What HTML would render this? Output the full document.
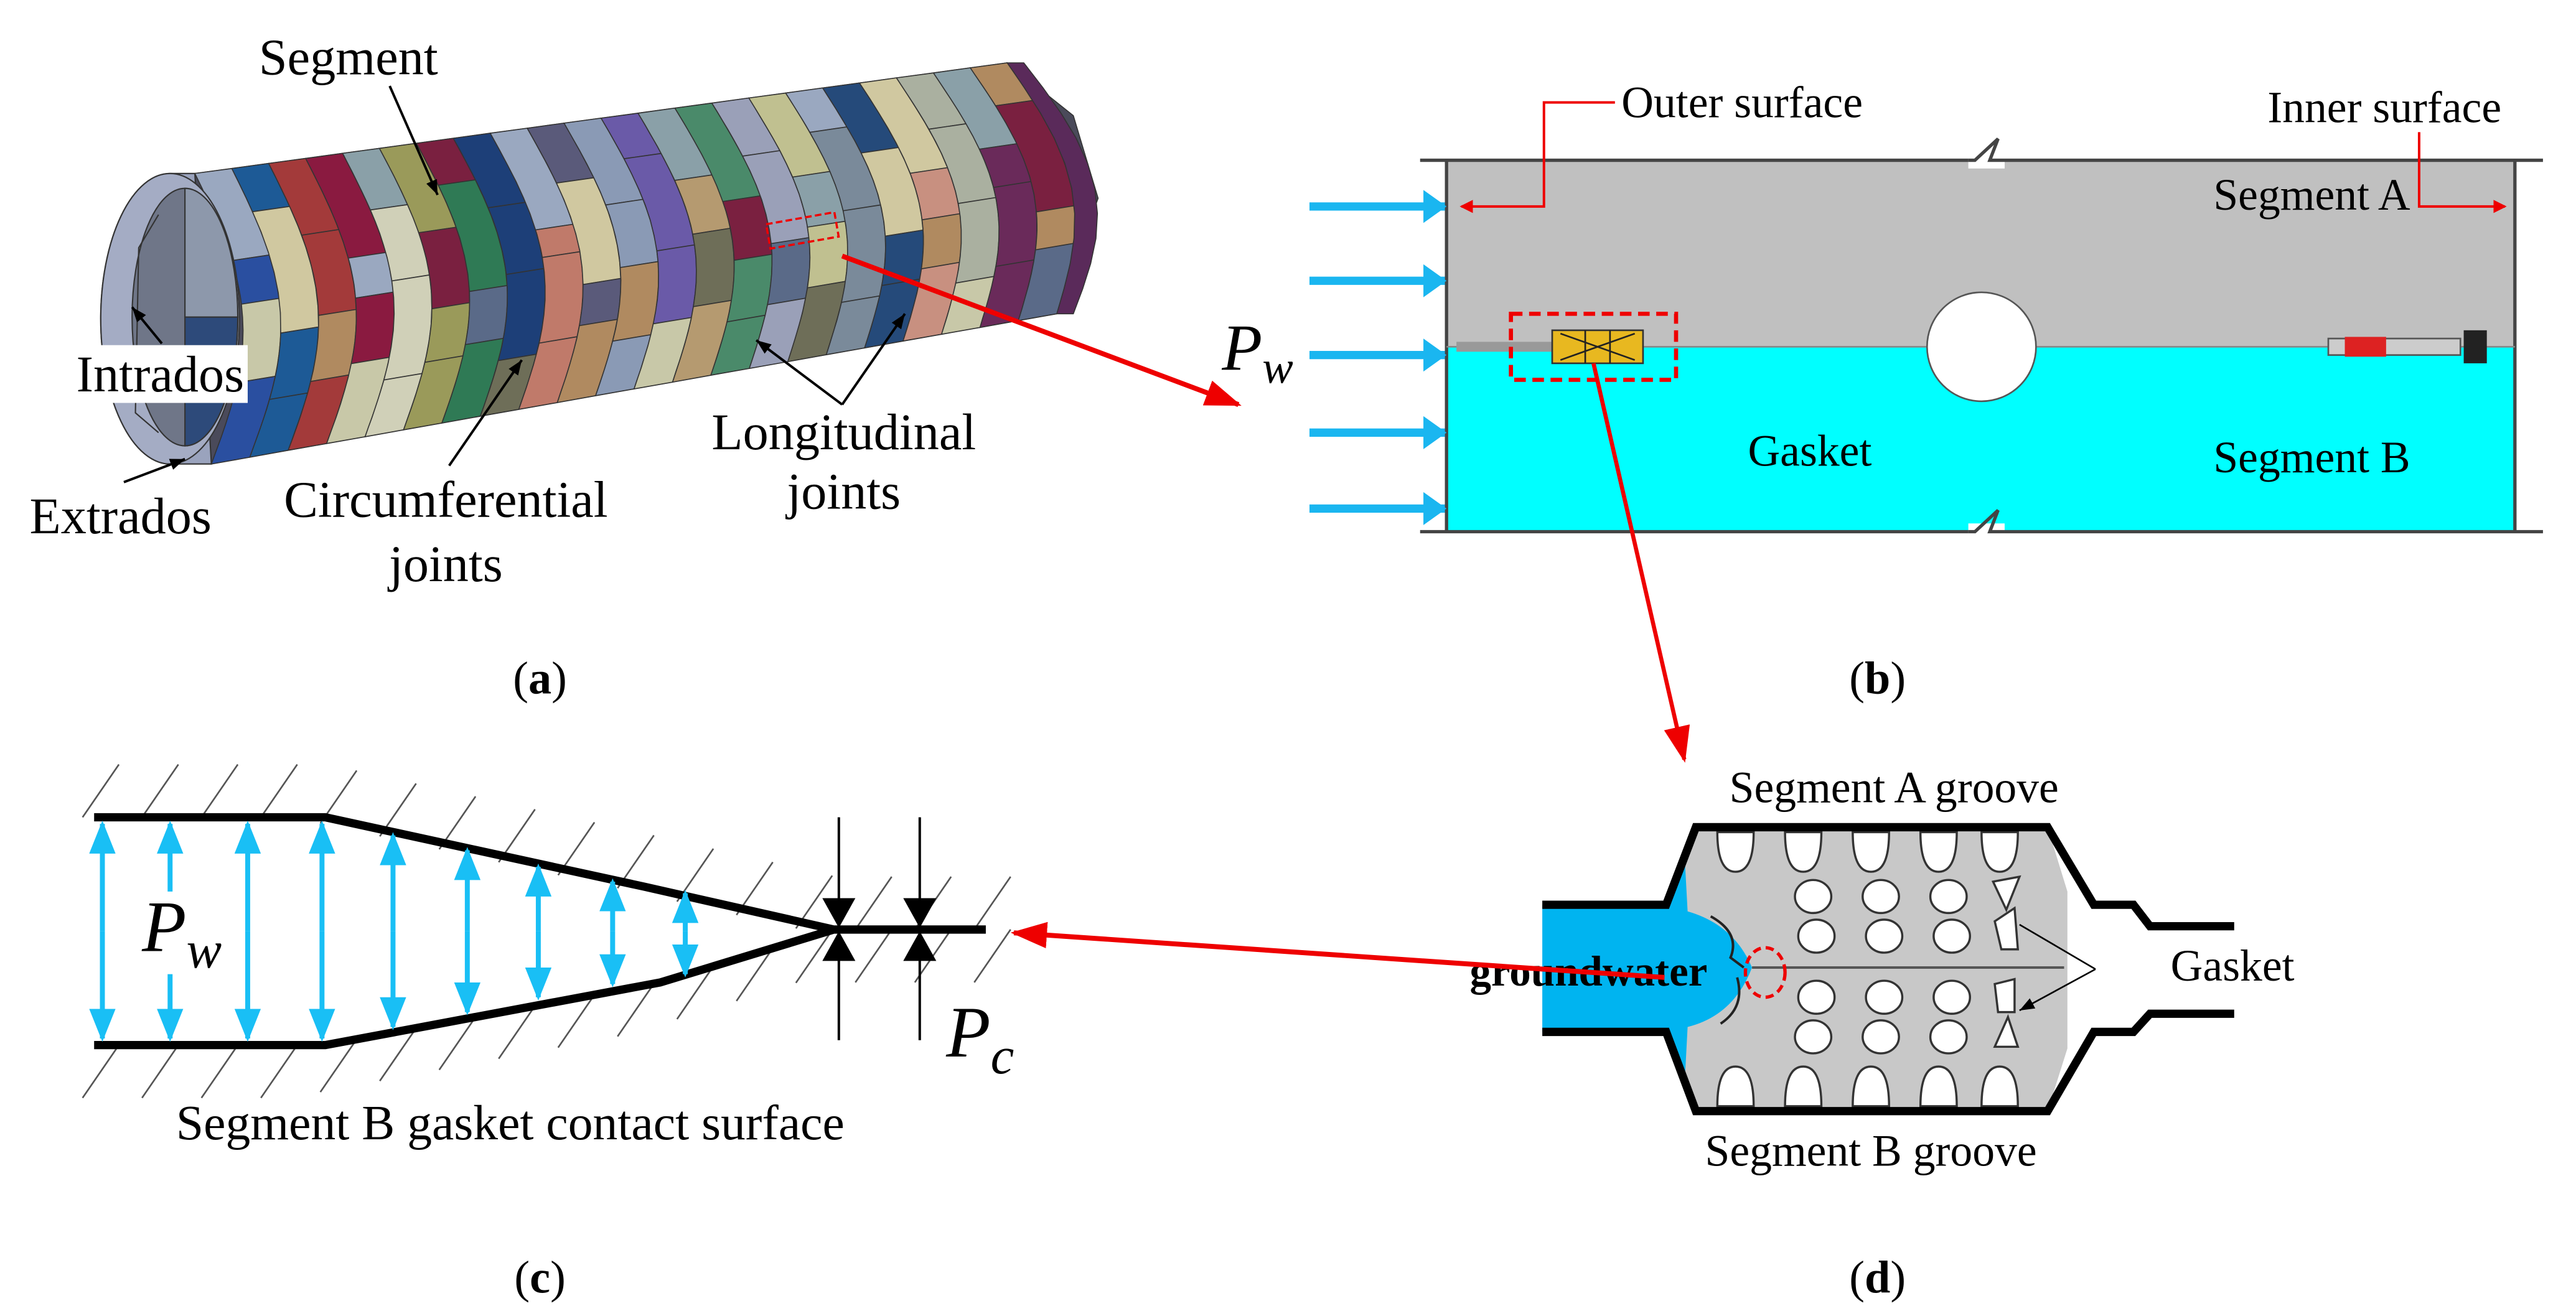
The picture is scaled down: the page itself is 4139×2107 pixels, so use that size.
<!DOCTYPE html>
<html><head><meta charset="utf-8"><style>html,body{margin:0;padding:0;background:#fff}svg{display:block}</style></head>
<body>
<svg id="S" width="4139" height="2107" viewBox="0 0 1560 794" xmlns="http://www.w3.org/2000/svg" font-family="Liberation Serif, serif">
<defs>
<marker id="ra" markerWidth="8" markerHeight="8" refX="7" refY="4" orient="auto" markerUnits="userSpaceOnUse"><path d="M0,0L8,4L0,8z" fill="#e00"/></marker>
<marker id="ra2" markerWidth="22" markerHeight="16" refX="20" refY="8" orient="auto" markerUnits="userSpaceOnUse"><path d="M0,0L22,8L0,16z" fill="#e00"/></marker>
<marker id="ka" markerWidth="9" markerHeight="7" refX="9" refY="3.5" orient="auto" markerUnits="userSpaceOnUse"><path d="M0,0L9,3.5L0,7z" fill="#000"/></marker>
<marker id="bA" markerWidth="14" markerHeight="20" refX="13" refY="10" orient="auto" markerUnits="userSpaceOnUse"><path d="M0,0L14,10L0,20z" fill="#1ab6f0"/></marker>
<marker id="bB" markerWidth="20" markerHeight="16" refX="18" refY="8" orient="auto" markerUnits="userSpaceOnUse"><path d="M0,0L20,8L0,16z" fill="#19bff5"/></marker>
<marker id="kb" markerWidth="18" markerHeight="20" refX="16" refY="10" orient="auto" markerUnits="userSpaceOnUse"><path d="M0,0L18,10L0,20z" fill="#000"/></marker>
</defs>

<!-- (a) tunnel -->
<g id="tube" stroke="#333" stroke-width="0.6"></g>
<g stroke="#333" stroke-width="0.8">
<path d="M118,105 L103,105 A42,88 0 0 0 103,281 L128,281 Z" fill="#9aa3bd"/>
<ellipse cx="103" cy="193" rx="42" ry="88" fill="#a4acc4"/>
<ellipse cx="112" cy="192" rx="32" ry="78" fill="#6f7688"/>
<path d="M112,114 A32,78 0 0 1 144,192 L112,192 Z" fill="#8d98ab"/>
<path d="M112,192 L144,192 A32,78 0 0 1 112,270 Z" fill="#2d4a7a"/>
<path d="M96,130 L84,150 L82,250 L96,262" fill="none"/>
</g>
<rect x="465" y="132" width="42" height="15" fill="none" stroke="#e00" stroke-width="1.3" stroke-dasharray="4,2" transform="rotate(-10 486 140)"/>
<rect x="45" y="209" width="105" height="35" fill="#fff"/>
<g font-size="31" text-anchor="middle">
<text x="211" y="45">Segment</text>
<text x="97" y="237">Intrados</text>
<text x="73" y="323">Extrados</text>
<text x="270" y="313">Circumferential</text>
<text x="270" y="352">joints</text>
<text x="511" y="272">Longitudinal</text>
<text x="511" y="308">joints</text>
</g>
<g font-size="28" text-anchor="middle">
<text x="327" y="420">(<tspan font-weight="bold">a</tspan>)</text>
<text x="1137" y="420">(<tspan font-weight="bold">b</tspan>)</text>
<text x="327" y="783">(<tspan font-weight="bold">c</tspan>)</text>
<text x="1137" y="783">(<tspan font-weight="bold">d</tspan>)</text>
</g>
<g stroke="#000" stroke-width="1.5" fill="none" marker-end="url(#ka)">
<line x1="236" y1="52" x2="265" y2="118"/>
<line x1="98" y1="208" x2="80" y2="186"/>
<line x1="75" y1="292" x2="112" y2="278"/>
<line x1="272" y1="282" x2="316" y2="218"/>
<line x1="510" y1="245" x2="458" y2="206"/>
<line x1="510" y1="245" x2="548" y2="190"/>
</g>
<line x1="510" y1="155" x2="750" y2="245" stroke="#e00" stroke-width="3" marker-end="url(#ra2)"/>

<!-- (b) -->
<rect x="876" y="97" width="647" height="113" fill="#c0c0c0"/>
<rect x="876" y="210" width="647" height="112" fill="#00ffff"/>
<g stroke="#444" stroke-width="2" fill="none">
<line x1="860" y1="97" x2="1540" y2="97"/>
<line x1="860" y1="322" x2="1540" y2="322"/>
<line x1="876" y1="97" x2="876" y2="322"/>
<line x1="1523" y1="97" x2="1523" y2="322"/>
<line x1="876" y1="210" x2="1523" y2="210" stroke="#888" stroke-width="1"/>
</g>
<rect x="1192" y="92" width="22" height="10" fill="#fff"/>
<rect x="1192" y="317" width="22" height="10" fill="#fff"/>
<path d="M1192,97 L1196,97 L1210,84 L1205,97 L1214,97" stroke="#444" stroke-width="2" fill="none"/>
<path d="M1192,322 L1196,322 L1210,309 L1205,322 L1214,322" stroke="#444" stroke-width="2" fill="none"/>
<circle cx="1200" cy="210" r="33" fill="#fff" stroke="#555" stroke-width="1"/>
<rect x="882" y="207" width="60" height="6" fill="#999"/>
<rect x="940" y="200" width="55" height="20" fill="#e8b820" stroke="#333"/>
<path d="M945,202 L990,218 M945,218 L990,202 M960,200 V220 M975,200 V220" stroke="#222"/>
<rect x="1410" y="205" width="80" height="10" fill="#ccc" stroke="#555"/>
<rect x="1420" y="204" width="25" height="12" fill="#d22"/>
<rect x="1492" y="200" width="14" height="20" fill="#222"/>
<rect x="915" y="190" width="100" height="40" fill="none" stroke="#e00" stroke-width="2.5" stroke-dasharray="7,4"/>
<g stroke="#1ab6f0" stroke-width="5" marker-end="url(#bA)">
<line x1="793" y1="125" x2="875" y2="125"/>
<line x1="793" y1="170" x2="875" y2="170"/>
<line x1="793" y1="215" x2="875" y2="215"/>
<line x1="793" y1="262" x2="875" y2="262"/>
<line x1="793" y1="308" x2="875" y2="308"/>
</g>
<text x="740" y="224" font-size="40" font-style="italic">P<tspan font-size="28" dy="8">w</tspan></text>
<g font-size="27" text-anchor="middle">
<text x="1055" y="71">Outer surface</text>
<text x="1444" y="74">Inner surface</text>
<text x="1400" y="127">Segment A</text>
<text x="1096" y="282">Gasket</text>
<text x="1400" y="286">Segment B</text>
</g>
<path d="M978,62 L935,62 L935,125 L885,125" stroke="#e00" stroke-width="1.5" fill="none" marker-end="url(#ra)"/>
<path d="M1465,80 L1465,125 L1517,125" stroke="#e00" stroke-width="1.5" fill="none" marker-end="url(#ra)"/>
<line x1="965" y1="220" x2="1020" y2="460" stroke="#e00" stroke-width="2.5" marker-end="url(#ra2)"/>

<!-- (c) -->
<g id="hatch" stroke="#555" stroke-width="1"></g>
<path d="M57,495 L197,495 L390,537 L505,563 L597,563 M57,633 L197,633 L400,595 L505,563" stroke="#000" stroke-width="5" fill="none" stroke-linejoin="round"/>
<g stroke="#19bff5" stroke-width="3" marker-end="url(#bB)">
<line x1="62" y1="564" x2="62" y2="499"/><line x1="62" y1="564" x2="62" y2="629"/>
<line x1="103" y1="540" x2="103" y2="499"/><line x1="103" y1="590" x2="103" y2="629"/>
<line x1="150" y1="564" x2="150" y2="499"/><line x1="150" y1="564" x2="150" y2="629"/>
<line x1="195" y1="564" x2="195" y2="499"/><line x1="195" y1="564" x2="195" y2="629"/>
<line x1="238" y1="564" x2="238" y2="506"/><line x1="238" y1="564" x2="238" y2="622"/>
<line x1="283" y1="564" x2="283" y2="515"/><line x1="283" y1="564" x2="283" y2="613"/>
<line x1="326" y1="564" x2="326" y2="525"/><line x1="326" y1="564" x2="326" y2="604"/>
<line x1="371" y1="564" x2="371" y2="534"/><line x1="371" y1="564" x2="371" y2="596"/>
<line x1="415" y1="564" x2="415" y2="541"/><line x1="415" y1="564" x2="415" y2="590"/>
</g>
<text x="86" y="576" font-size="44" font-style="italic">P<tspan font-size="32" dy="10">w</tspan></text>
<g stroke="#000" stroke-width="1.5" marker-end="url(#kb)">
<line x1="508" y1="495" x2="508" y2="560"/>
<line x1="557" y1="495" x2="557" y2="560"/>
<line x1="508" y1="630" x2="508" y2="566"/>
<line x1="557" y1="630" x2="557" y2="566"/>
</g>
<text x="573" y="640" font-size="44" font-style="italic">P<tspan font-size="32" dy="10">c</tspan></text>
<text x="309" y="690" font-size="30" text-anchor="middle">Segment B gasket contact surface</text>

<!-- (d) -->
<path d="M934,548 L1009,548 L1027,501 L1240,501 L1268,548 L1268,625 L1240,673 L1027,673 L1009,625 L934,625 Z" fill="#fff"/>
<path d="M1027,501 L1240,501 L1252,540 L1252,635 L1240,673 L1027,673 L1009,625 L1009,548 Z" fill="#c8c8c8"/>
<path d="M934,548 L1009,548 L1020,515 L1022,552 Q1050,560 1061,586 Q1050,615 1022,622 L1020,660 L1009,625 L934,625 Z" fill="#00b4f0"/>
<line x1="1061" y1="586" x2="1250" y2="586" stroke="#555" stroke-width="1.5"/>
<g fill="#fff" stroke="#333" stroke-width="1.3">
<path d="M1040,504 q0,24 11,24 q11,0 11,-24z"/><path d="M1081,504 q0,24 11,24 q11,0 11,-24z"/><path d="M1122,504 q0,24 11,24 q11,0 11,-24z"/><path d="M1163,504 q0,24 11,24 q11,0 11,-24z"/><path d="M1200,504 q0,24 11,24 q11,0 11,-24z"/>
<path d="M1040,670 q0,-24 11,-24 q11,0 11,24z"/><path d="M1081,670 q0,-24 11,-24 q11,0 11,24z"/><path d="M1122,670 q0,-24 11,-24 q11,0 11,24z"/><path d="M1163,670 q0,-24 11,-24 q11,0 11,24z"/><path d="M1200,670 q0,-24 11,-24 q11,0 11,24z"/>
<ellipse cx="1098" cy="543" rx="11" ry="10"/><ellipse cx="1139" cy="543" rx="11" ry="10"/><ellipse cx="1180" cy="543" rx="11" ry="10"/>
<ellipse cx="1100" cy="567" rx="11" ry="10"/><ellipse cx="1141" cy="567" rx="11" ry="10"/><ellipse cx="1182" cy="567" rx="11" ry="10"/>
<ellipse cx="1100" cy="604" rx="11" ry="10"/><ellipse cx="1141" cy="604" rx="11" ry="10"/><ellipse cx="1182" cy="604" rx="11" ry="10"/>
<ellipse cx="1098" cy="628" rx="11" ry="10"/><ellipse cx="1139" cy="628" rx="11" ry="10"/><ellipse cx="1180" cy="628" rx="11" ry="10"/>
<path d="M1207,534 l16,-3 l-8,20z"/><path d="M1208,558 l12,-8 l2,25 l-10,0z"/>
<path d="M1208,596 l12,-3 l0,20 l-10,0z"/><path d="M1208,634 l14,0 l-6,-18z"/>
</g>
<path d="M934,548 L1009,548 L1027,501 L1240,501 L1268,548 L1292,548 L1302,561 L1353,561 M934,625 L1009,625 L1027,673 L1240,673 L1268,625 L1292,625 L1302,614 L1353,614" stroke="#000" stroke-width="5" fill="none"/>
<path d="M1036,555 q18,10 12,25 l8,6 M1042,620 q15,-10 10,-28" stroke="#222" stroke-width="1.5" fill="none"/>
<g font-size="27" text-anchor="middle">
<text x="1147" y="486">Segment A groove</text>
<text x="1133" y="706">Segment B groove</text>
<text x="1352" y="594">Gasket</text>
<text x="962" y="597" font-weight="bold" font-size="26">groundwater</text>
</g>
<path d="M1269,587 L1223,560 M1269,587 L1223,612" stroke="#000" stroke-width="1" fill="none" marker-end="url(#ka)"/>
<ellipse cx="1069" cy="589" rx="12" ry="15" fill="none" stroke="#e00" stroke-width="2" stroke-dasharray="5,3"/>
<line x1="1008" y1="592" x2="614" y2="565" stroke="#e00" stroke-width="3" marker-end="url(#ra2)"/>
</svg>
<script>
(function(){
var NS="http://www.w3.org/2000/svg";
var tube=document.getElementById("tube");
function T(t){return [118+492*t,105-67*t];}
function B(t){return [128+512*t,281-91*t];}
function P(t,f){var a=T(t),b=B(t);return [a[0]+(b[0]-a[0])*f+Math.sin(Math.PI*f)*24,a[1]+(b[1]-a[1])*f];}
var pal=["#2a4fa0","#1d5a96","#a33a3a","#8a1a40","#d0d0b8","#9a9a5a","#2f7a55","#1d3f78","#c07a6a","#5a5a7a","#8a9ab5","#6a5aa8","#b59a70","#4a8a6a","#9aa0b8","#c0c090","#7a8a9a","#254a7a","#c89080","#aab0a0","#6a2a5a","#b08a60"];
var alt=["#9aa8c0","#c8c8a8","#5a6a88","#d0c8a0","#8aa0a8","#6e6e58","#b08a60","#7a2040"];
var n=22;
var poly=function(arr,fill){var p=document.createElementNS(NS,"polygon");p.setAttribute("points",arr.map(function(q){return q[0].toFixed(1)+","+q[1].toFixed(1);}).join(" "));p.setAttribute("fill",fill);tube.appendChild(p);};
poly([T(0),T(1),[650,70],[665,120],B(1),B(0)],"#4a4a5a");
for(var i=0;i<n;i++){
 var t0=i/n,t1=(i+1)/n;
 var s=(i*7+3)%5;
 var fs=[0,0.15+0.05*s,0.45+0.04*((i*3)%4),0.72+0.04*((i*5)%3),1];
 for(var k=0;k<4;k++){
  var arr=[];var f0=fs[k],f1=fs[k+1];
  for(var m=0;m<=6;m++){arr.push(P(t0,f0+(f1-f0)*m/6));}
  for(var m=6;m>=0;m--){arr.push(P(t1,f0+(f1-f0)*m/6));}
  var c=(k==(i%4))?alt[(i*3)%alt.length]:pal[i%pal.length];
  if(k==((i+2)%4)&&i%3==0)c=alt[(i*5+1)%alt.length];
  poly(arr,c);
 }
}
var cap=[];for(var m=0;m<=10;m++){cap.push(P(1,m/10));}
for(var m=10;m>=0;m--){var q=P(1,m/10);cap.push([q[0]+Math.sin(Math.PI*m/10)*4+10,q[1]]);}
poly(cap,"#5a2a5a");
var h=document.getElementById("hatch");
function ln(x1,y1,x2,y2){var l=document.createElementNS(NS,"line");l.setAttribute("x1",x1);l.setAttribute("y1",y1);l.setAttribute("x2",x2);l.setAttribute("y2",y2);h.appendChild(l);}
function topY(x){if(x<197)return 495;if(x<390)return 495+(x-197)*42/193;if(x<505)return 537+(x-390)*26/115;return 563;}
function botY(x){if(x<197)return 633;if(x<400)return 633-(x-197)*38/203;if(x<505)return 595-(x-400)*32/105;return 563;}
for(var x=50;x<600;x+=36){
 var y=topY(x+20);ln(x,y,x+22,y-32);
 var yb=botY(x+22);ln(x,yb+32,x+22,yb);
}
})();
</script>
</body></html>
